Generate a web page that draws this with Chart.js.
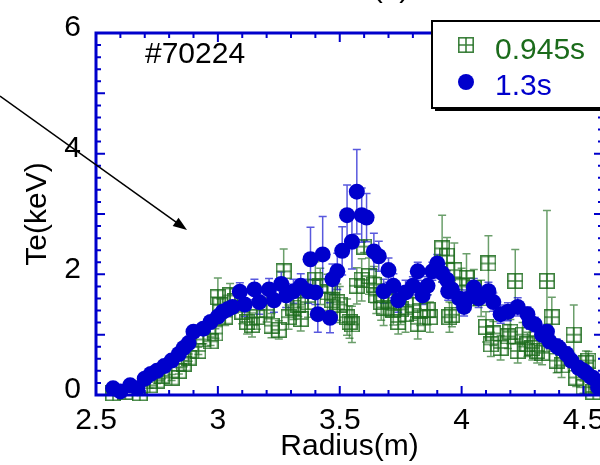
<!DOCTYPE html>
<html>
<head>
<meta charset="utf-8">
<script src="https://cdn.jsdelivr.net/npm/chart.js@4.4.0/dist/chart.umd.min.js"></script>
<style>
  html, body { margin: 0; padding: 0; background: #fff; overflow: hidden; }
  #wrap { width: 640px; height: 465px; }
</style>
</head>
<body>
<div id="wrap"><canvas id="teChart" width="640" height="465"></canvas></div>
<script>
// Te profile, shot #70224
const panelLabel = '(b)';
const shotLabel = '#70224';
const labelEarly = '0.945s';
const labelLate = '1.3s';
const xTicks = [2.5, 3, 3.5, 4, 4.5];
const yTicks = [0, 2, 4, 6];

// 0.945s (green squares)
const greenR = [2.57,2.62,2.68,2.72,2.75,2.77,2.81,2.84,2.86,2.88,
  2.92,2.94,2.97,2.99,3.00,3.01,3.03,3.05,3.07,3.10,
  3.12,3.14,3.16,3.20,3.22,3.25,3.27,3.29,3.31,3.33,
  3.34,3.37,3.40,3.42,3.45,3.47,3.49,3.50,3.53,3.54,
  3.55,3.57,3.59,3.60,3.62,3.64,3.65,3.67,3.68,3.70,
  3.72,3.74,3.75,3.77,3.80,3.82,3.83,3.86,3.87,3.92,
  3.94,3.95,3.96,3.97,4.00,4.02,4.05,4.08,4.10,4.11,
  4.12,4.13,4.16,4.19,4.20,4.22,4.23,4.25,4.27,4.29,
  4.31,4.33,4.35,4.37,4.39,4.41,4.46,4.47,4.50,4.51,
  4.52,4.54,4.55];
const greenTe = [0.03,0.05,0.03,0.16,0.24,0.32,0.29,0.40,0.52,0.62,
  0.73,0.92,0.89,1.02,1.62,1.49,1.30,1.65,1.56,1.38,
  1.21,1.16,1.29,1.41,1.15,1.08,2.05,1.29,1.45,1.50,
  1.26,1.54,1.91,1.80,1.70,1.57,1.54,1.50,1.29,1.21,
  1.17,1.81,1.91,2.46,1.97,1.83,1.65,1.54,1.45,1.55,
  1.41,1.21,1.42,1.34,1.49,1.18,1.40,1.41,1.29,2.43,
  2.31,1.29,1.33,2.07,1.80,1.94,1.78,1.60,1.13,2.18,
  0.84,1.02,0.78,0.97,1.05,1.89,0.73,1.00,0.84,0.78,
  0.73,0.70,1.89,1.29,0.57,0.49,1.00,0.29,0.13,0.53,
  0.57,0.05,0.13];
const greenErr = [0.05,0.05,0.05,0.05,0.05,0.05,0.05,0.05,0.05,0.06,
  0.06,0.07,0.07,0.08,0.32,0.10,0.15,0.20,0.20,0.20,
  0.20,0.20,0.20,0.20,0.20,0.15,0.37,0.20,0.20,0.20,
  0.20,0.25,0.30,0.30,0.30,0.30,0.30,0.30,0.30,0.27,
  0.30,0.30,0.35,0.10,0.30,0.30,0.30,0.30,0.30,0.25,
  0.25,0.20,0.25,0.30,0.25,0.25,0.25,0.25,0.25,0.55,
  0.30,0.25,0.20,0.45,0.30,0.40,0.30,0.30,0.25,0.46,
  0.20,0.20,0.20,0.20,0.20,0.52,0.20,0.20,0.20,0.20,
  0.20,0.20,1.17,0.33,0.20,0.20,0.49,0.15,0.10,0.20,
  0.15,0.05,0.10];

// 1.3s (blue circles)
const blueR = [2.57,2.60,2.64,2.67,2.70,2.725,2.75,2.78,2.81,2.84,
  2.86,2.88,2.90,2.94,2.97,3.00,3.02,3.04,3.06,3.09,
  3.11,3.15,3.17,3.21,3.23,3.26,3.28,3.31,3.34,3.37,
  3.38,3.40,3.41,3.43,3.46,3.47,3.49,3.51,3.53,3.55,
  3.57,3.59,3.61,3.64,3.66,3.68,3.70,3.72,3.74,3.77,
  3.80,3.82,3.84,3.86,3.88,3.90,3.92,3.94,3.945,3.96,
  3.99,4.01,4.02,4.05,4.07,4.11,4.13,4.16,4.19,4.23,
  4.27,4.28,4.30,4.33,4.35,4.36,4.39,4.40,4.43,4.45,
  4.48,4.50,4.51,4.53,4.54,4.56];
const blueTe = [0.11,0.06,0.16,0.11,0.27,0.35,0.40,0.48,0.57,0.68,
  0.78,0.86,1.05,1.10,1.21,1.30,1.38,1.42,1.46,1.71,
  1.50,1.75,1.54,1.75,1.57,1.84,1.65,1.72,1.81,1.72,
  2.25,1.70,1.34,2.33,1.28,1.92,2.05,2.39,2.98,2.54,
  3.37,2.98,2.94,2.38,2.30,1.72,2.07,1.81,1.57,1.70,
  1.81,2.05,1.65,1.81,2.05,2.18,2.02,1.91,1.72,1.75,
  1.60,1.46,1.59,1.78,1.60,1.72,1.54,1.34,1.38,1.46,
  1.34,1.21,1.17,1.00,1.05,0.89,0.81,0.78,0.68,0.57,
  0.45,0.40,0.37,0.30,0.28,0.13];
const blueErr = [0.05,0.05,0.05,0.05,0.05,0.05,0.05,0.05,0.06,0.06,
  0.06,0.06,0.07,0.07,0.08,0.08,0.08,0.10,0.10,0.15,
  0.20,0.17,0.20,0.18,0.20,0.20,0.20,0.20,0.20,0.20,
  0.53,0.20,0.30,0.63,0.25,0.25,0.30,0.40,0.50,0.45,
  0.70,0.45,0.40,0.30,0.25,0.20,0.20,0.20,0.20,0.20,
  0.15,0.15,0.15,0.15,0.15,0.15,0.15,0.15,0.15,0.15,
  0.15,0.15,0.15,0.15,0.15,0.15,0.15,0.15,0.15,0.15,
  0.12,0.12,0.12,0.12,0.12,0.12,0.12,0.12,0.12,0.12,
  0.10,0.10,0.10,0.10,0.10,0.10];

const BLUE = '#0000cc';
const GREEN = '#1b6b1b';
const FONT = "'Liberation Sans', Arial, Helvetica, sans-serif";

function toPoints(rs, ts, es) {
  return rs.map((r, i) => ({ x: r, y: ts[i], err: es[i] }));
}

// square with a cross, used as the 0.945s marker
function makeSquareMarker(size) {
  const c = document.createElement('canvas');
  c.width = size; c.height = size;
  const g = c.getContext('2d');
  g.strokeStyle = 'rgba(27,107,27,0.85)';
  g.lineWidth = 1.6;
  g.strokeRect(0.8, 0.8, size - 1.6, size - 1.6);
  g.beginPath();
  g.moveTo(size / 2, 0.8); g.lineTo(size / 2, size - 0.8);
  g.moveTo(0.8, size / 2); g.lineTo(size - 0.8, size / 2);
  g.stroke();
  return c;
}
const squareMarker = makeSquareMarker(16);

const errorBars = {
  id: 'errorBars',
  beforeDatasetsDraw(chart) {
    const ctx = chart.ctx;
    const xs = chart.scales.x, ys = chart.scales.y;
    // draw in reverse so the first dataset's bars sit on top
    for (let d = chart.data.datasets.length - 1; d >= 0; d--) {
      const ds = chart.data.datasets[d];
      ctx.save();
      ctx.strokeStyle = ds.errColor;
      ctx.lineWidth = 1.5;
      ds.data.forEach(p => {
        const px = xs.getPixelForValue(p.x);
        const top = ys.getPixelForValue(p.y + p.err);
        const bot = ys.getPixelForValue(Math.max(0, p.y - p.err));
        ctx.beginPath();
        ctx.moveTo(px, top); ctx.lineTo(px, bot);
        ctx.moveTo(px - 4, top); ctx.lineTo(px + 4, top);
        ctx.moveTo(px - 4, bot); ctx.lineTo(px + 4, bot);
        ctx.stroke();
      });
      ctx.restore();
    }
  }
};

const frame = {
  id: 'frame',
  afterDatasetsDraw(chart) {
    const ctx = chart.ctx;
    const a = chart.chartArea;
    const xs = chart.scales.x, ys = chart.scales.y;
    ctx.save();
    ctx.strokeStyle = BLUE;
    ctx.lineWidth = 2;
    ctx.beginPath();
    for (let i = 25; i <= 45; i++) {
      const px = xs.getPixelForValue(i / 10);
      const len = i % 5 === 0 ? 9 : 5;
      ctx.moveTo(px, a.bottom); ctx.lineTo(px, a.bottom - len);
      ctx.moveTo(px, a.top); ctx.lineTo(px, a.top + len);
    }
    for (let i = 0; i <= 30; i++) {
      const py = ys.getPixelForValue(i / 5);
      const len = i % 5 === 0 ? 9 : 5;
      ctx.moveTo(a.left, py); ctx.lineTo(a.left + len, py);
      ctx.moveTo(a.right, py); ctx.lineTo(a.right - len, py);
    }
    ctx.stroke();
    ctx.lineWidth = 3;
    ctx.strokeRect(a.left, a.top, a.right - a.left, a.bottom - a.top);
    ctx.restore();
  },
  afterDraw(chart) {
    const ctx = chart.ctx;
    ctx.save();
    ctx.font = '30px ' + FONT;
    ctx.textBaseline = 'alphabetic';
    ctx.fillStyle = '#000';
    ctx.textAlign = 'center';
    ctx.fillText(panelLabel, 391, -3);
    ctx.textAlign = 'left';
    ctx.fillText(shotLabel, 145, 63);

    // legend box with drop shadow
    ctx.fillStyle = '#000';
    ctx.fillRect(435, 24, 240, 87);
    ctx.fillStyle = '#fff';
    ctx.fillRect(432, 21, 240, 87);
    ctx.strokeStyle = '#000';
    ctx.lineWidth = 2;
    ctx.strokeRect(432, 21, 240, 87);
    ctx.drawImage(squareMarker, 466 - 8, 45 - 8);
    ctx.fillStyle = BLUE;
    ctx.beginPath();
    ctx.arc(466, 82, 8, 0, Math.PI * 2);
    ctx.fill();
    ctx.fillStyle = GREEN;
    ctx.fillText(labelEarly, 495, 59);
    ctx.fillStyle = BLUE;
    ctx.fillText(labelLate, 495, 95);

    // arrow
    ctx.strokeStyle = '#000';
    ctx.fillStyle = '#000';
    ctx.lineWidth = 1.5;
    const x0 = 0, y0 = 96, x1 = 187, y1 = 230;
    const ang = Math.atan2(y1 - y0, x1 - x0);
    ctx.beginPath();
    ctx.moveTo(x0, y0);
    ctx.lineTo(x1 - 10 * Math.cos(ang), y1 - 10 * Math.sin(ang));
    ctx.stroke();
    ctx.beginPath();
    ctx.moveTo(x1, y1);
    ctx.lineTo(x1 - 14 * Math.cos(ang) + 5 * Math.sin(ang), y1 - 14 * Math.sin(ang) - 5 * Math.cos(ang));
    ctx.lineTo(x1 - 14 * Math.cos(ang) - 5 * Math.sin(ang), y1 - 14 * Math.sin(ang) + 5 * Math.cos(ang));
    ctx.closePath();
    ctx.fill();
    ctx.restore();
  }
};

new Chart(document.getElementById('teChart'), {
  type: 'scatter',
  data: {
    datasets: [
      {
        label: labelLate,
        data: toPoints(blueR, blueTe, blueErr),
        pointStyle: 'circle',
        pointRadius: 8,
        pointHoverRadius: 8,
        backgroundColor: BLUE,
        borderWidth: 0,
        errColor: 'rgba(0,0,204,0.65)',
        clip: false
      },
      {
        label: labelEarly,
        data: toPoints(greenR, greenTe, greenErr),
        pointStyle: squareMarker,
        pointRadius: 8,
        backgroundColor: GREEN,
        borderColor: GREEN,
        errColor: 'rgba(27,107,27,0.65)',
        clip: false
      }
    ]
  },
  options: {
    responsive: false,
    animation: false,
    devicePixelRatio: 1,
    layout: { padding: { top: 24, left: 0, right: 37, bottom: 0 } },
    plugins: {
      legend: { display: false },
      tooltip: { enabled: false }
    },
    scales: {
      x: {
        type: 'linear',
        min: 2.5,
        max: 4.58,
        afterBuildTicks: s => { s.ticks = xTicks.map(v => ({ value: v })); },
        afterFit: s => { s.height = 70; },
        grid: { display: false, drawTicks: false },
        border: { display: false },
        ticks: { color: '#000', font: { family: FONT, size: 30 }, padding: 8, maxRotation: 0, callback: v => String(v) },
        title: { display: true, text: 'Radius(m)', color: '#000', font: { family: FONT, size: 30 }, padding: { top: 0, bottom: 0 } }
      },
      y: {
        type: 'linear',
        min: 0,
        max: 6,
        afterBuildTicks: s => { s.ticks = yTicks.map(v => ({ value: v })); },
        afterFit: s => { s.width = 96; },
        grid: { display: false, drawTicks: false },
        border: { display: false },
        ticks: { color: '#000', font: { family: FONT, size: 30 }, padding: 15, labelOffset: -5, callback: v => String(v) },
        title: { display: true, text: 'Te(keV)', color: '#000', font: { family: FONT, size: 30 }, padding: { top: 20, bottom: 0 } }
      }
    }
  },
  plugins: [errorBars, frame]
});
</script>
</body>
</html>
